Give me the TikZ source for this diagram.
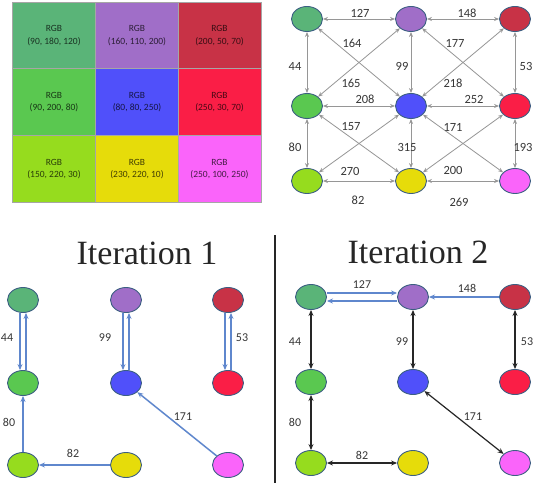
\documentclass[tikz,border=0pt]{standalone}
\usepackage{fontspec}
\setmainfont{Liberation Serif}
\newfontfamily\lblfont{Carlito}
\usetikzlibrary{arrows.meta,shapes.geometric}

% palette
\definecolor{cA}{RGB}{90,180,120}
\definecolor{cB}{RGB}{160,110,200}
\definecolor{cC}{RGB}{200,50,70}
\definecolor{cD}{RGB}{90,200,80}
\definecolor{cE}{RGB}{80,80,250}
\definecolor{cF}{RGB}{250,30,70}
\definecolor{cG}{RGB}{150,220,30}
\definecolor{cH}{RGB}{230,220,10}
\definecolor{cI}{RGB}{250,100,250}
\definecolor{nodeline}{RGB}{60,95,130}
\definecolor{edgegray}{RGB}{150,150,150}
\definecolor{edgeblue}{RGB}{95,135,205}
\definecolor{labelgray}{RGB}{55,55,55}

\begin{document}
\begin{tikzpicture}[x=1pt,y=-1pt,
  cell/.style={rectangle, draw=gray!70, line width=0.6pt, minimum width=83pt,
    minimum height=67pt, align=center, font=\lblfont\fontsize{9.5}{12.5}\selectfont},
  vert/.style={ellipse, draw=nodeline, line width=0.9pt, minimum width=31pt,
    minimum height=25pt, inner sep=0pt},
  gedge/.style={draw=edgegray, line width=0.8pt,
    {Stealth[length=5pt,width=4pt]}-{Stealth[length=5pt,width=4pt]}},
  bedge/.style={draw=edgeblue, line width=1.5pt, -{Stealth[length=6pt,width=5pt]}},
  kedge/.style={draw=black!85, line width=1.2pt,
    {Stealth[length=6pt,width=5pt]}-{Stealth[length=6pt,width=5pt]}},
  toplbl/.style={text=labelgray, font=\lblfont\fontsize{12.5}{14}\selectfont, inner sep=0pt},
  botlbl/.style={text=labelgray, font=\lblfont\fontsize{12}{14}\selectfont, inner sep=0pt},
  ttl/.style={font=\fontsize{34}{40}\selectfont, text=black!85}]

\useasboundingbox (0,0) rectangle (535,489);
\fill[white] (0,0) rectangle (535,489);

% ---- colour table ----
\node[cell, fill=cA, text=cA!28!black] (rA) at (54,35.5)  {RGB\\(90, 180, 120)};
\node[cell, fill=cB, text=cB!28!black] (rB) at (137,35.5) {RGB\\(160, 110, 200)};
\node[cell, fill=cC, text=cC!28!black] (rC) at (219.5,35.5) {RGB\\(200, 50, 70)};
\node[cell, fill=cD, text=cD!28!black] (rD) at (54,102)   {RGB\\(90, 200, 80)};
\node[cell, fill=cE, text=cE!28!black] (rE) at (137,102)  {RGB\\(80, 80, 250)};
\node[cell, fill=cF, text=cF!28!black] (rF) at (219.5,102) {RGB\\(250, 30, 70)};
\node[cell, fill=cG, text=cG!28!black] (rG) at (54,169)   {RGB\\(150, 220, 30)};
\node[cell, fill=cH, text=cH!28!black] (rH) at (137,169)  {RGB\\(230, 220, 10)};
\node[cell, fill=cI, text=cI!28!black] (rI) at (219.5,169) {RGB\\(250, 100, 250)};

% ---- complete graph ----
\node[vert, fill=cA] (gA) at (307,19)  {};
\node[vert, fill=cB] (gB) at (411,19)  {};
\node[vert, fill=cC] (gC) at (515,19)  {};
\node[vert, fill=cD] (gD) at (307,106) {};
\node[vert, fill=cE] (gE) at (411,106) {};
\node[vert, fill=cF] (gF) at (515,106) {};
\node[vert, fill=cG] (gG) at (307,181) {};
\node[vert, fill=cH] (gH) at (411,181) {};
\node[vert, fill=cI] (gI) at (515,181) {};

\draw[gedge] (gA) -- (gB);
\draw[gedge] (gB) -- (gC);
\draw[gedge] (gD) -- (gE);
\draw[gedge] (gE) -- (gF);
\draw[gedge] (gG) -- (gH);
\draw[gedge] (gH) -- (gI);
\draw[gedge] (gA) -- (gD);
\draw[gedge] (gD) -- (gG);
\draw[gedge] (gB) -- (gE);
\draw[gedge] (gE) -- (gH);
\draw[gedge] (gC) -- (gF);
\draw[gedge] (gF) -- (gI);
\draw[gedge] (gA) -- (gE);
\draw[gedge] (gB) -- (gD);
\draw[gedge] (gB) -- (gF);
\draw[gedge] (gC) -- (gE);
\draw[gedge] (gD) -- (gH);
\draw[gedge] (gE) -- (gG);
\draw[gedge] (gE) -- (gI);
\draw[gedge] (gF) -- (gH);

\node[toplbl] (w127) at (360,13)  {127};
\node[toplbl] (w148) at (467,13)  {148};
\node[toplbl] (w164) at (352,43)  {164};
\node[toplbl] (w177) at (455,43)  {177};
\node[toplbl] (w44)  at (295,66)  {44};
\node[toplbl] (w99)  at (402,66)  {99};
\node[toplbl] (w53)  at (526,66)  {53};
\node[toplbl] (w165) at (351,83)  {165};
\node[toplbl] (w218) at (453,83)  {218};
\node[toplbl] (w208) at (365,99)  {208};
\node[toplbl] (w252) at (474,99)  {252};
\node[toplbl] (w157) at (351,127) {157};
\node[toplbl] (w171) at (453,127) {171};
\node[toplbl] (w80)  at (295,147) {80};
\node[toplbl] (w315) at (407,147) {315};
\node[toplbl] (w193) at (523,147) {193};
\node[toplbl] (w270) at (350,171) {270};
\node[toplbl] (w200) at (453,170) {200};
\node[toplbl] (w82)  at (358,200) {82};
\node[toplbl] (w269) at (459,202) {269};

% ---- iteration 1 ----
\node[ttl] (t1) at (147,253) {Iteration 1};
\node[vert, fill=cA] (iA) at (23,300)  {};
\node[vert, fill=cB] (iB) at (126,300) {};
\node[vert, fill=cC] (iC) at (228,300) {};
\node[vert, fill=cD] (iD) at (23,383)  {};
\node[vert, fill=cE] (iE) at (126,383) {};
\node[vert, fill=cF] (iF) at (228,383) {};
\node[vert, fill=cG] (iG) at (23,465)  {};
\node[vert, fill=cH] (iH) at (126,465) {};
\node[vert, fill=cI] (iI) at (228,465) {};

\draw[bedge] ([xshift=-3pt]iA.south) -- ([xshift=-3pt]iD.north);
\draw[bedge] ([xshift=3pt]iD.north) -- ([xshift=3pt]iA.south);
\draw[bedge] ([xshift=-3pt]iB.south) -- ([xshift=-3pt]iE.north);
\draw[bedge] ([xshift=3pt]iE.north) -- ([xshift=3pt]iB.south);
\draw[bedge] ([xshift=-3pt]iC.south) -- ([xshift=-3pt]iF.north);
\draw[bedge] ([xshift=3pt]iF.north) -- ([xshift=3pt]iC.south);
\draw[bedge] (iG) -- (iD);
\draw[bedge] (iH) -- (iG);
\draw[bedge] (iI) -- (iE);

\node[botlbl] (u44)  at (7,338)   {44};
\node[botlbl] (u99)  at (105,338) {99};
\node[botlbl] (u53)  at (242,338) {53};
\node[botlbl] (u80)  at (9,422)   {80};
\node[botlbl] (u82)  at (73,453)  {82};
\node[botlbl] (u171) at (183,417) {171};

% ---- separator ----
\coordinate (sepT) at (275,235);
\coordinate (sepB) at (275,483);
\draw[line width=1.8pt, black!85] (sepT) -- (sepB);

% ---- iteration 2 ----
\node[ttl] (t2) at (418,252) {Iteration 2};
\node[vert, fill=cA] (jA) at (311,297) {};
\node[vert, fill=cB] (jB) at (413,297) {};
\node[vert, fill=cC] (jC) at (515,297) {};
\node[vert, fill=cD] (jD) at (311,382) {};
\node[vert, fill=cE] (jE) at (413,382) {};
\node[vert, fill=cF] (jF) at (515,382) {};
\node[vert, fill=cG] (jG) at (311,463) {};
\node[vert, fill=cH] (jH) at (413,463) {};
\node[vert, fill=cI] (jI) at (515,463) {};

\draw[bedge] ([yshift=4pt]jA.east) -- ([yshift=4pt]jB.west);
\draw[bedge] ([yshift=-4pt]jB.west) -- ([yshift=-4pt]jA.east);
\draw[bedge] (jC) -- (jB);
\draw[kedge] (jA) -- (jD);
\draw[kedge] (jB) -- (jE);
\draw[kedge] (jC) -- (jF);
\draw[kedge] (jD) -- (jG);
\draw[kedge] (jG) -- (jH);
\draw[kedge] (jE) -- (jI);

\node[botlbl] (v127) at (362,285) {127};
\node[botlbl] (v148) at (467,288) {148};
\node[botlbl] (v44)  at (295,342) {44};
\node[botlbl] (v99)  at (402,342) {99};
\node[botlbl] (v53)  at (527,342) {53};
\node[botlbl] (v80)  at (295,422) {80};
\node[botlbl] (v171) at (473,417) {171};
\node[botlbl] (v82)  at (362,455) {82};

\end{tikzpicture}
\end{document}
